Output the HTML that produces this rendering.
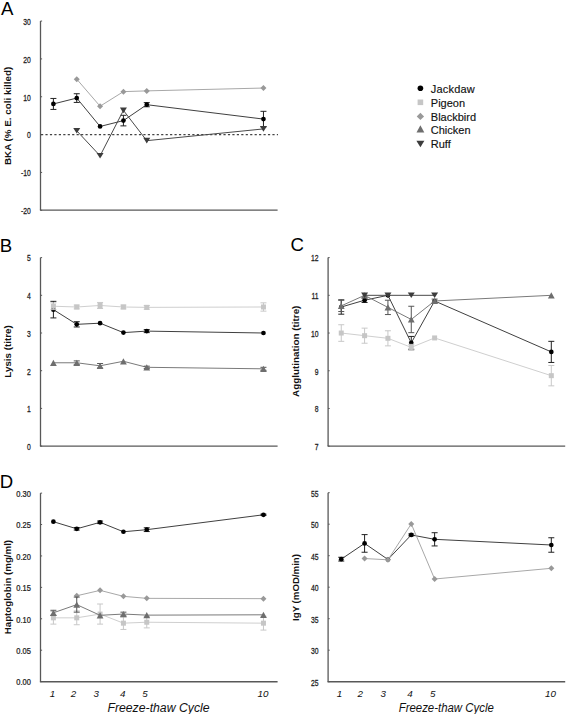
<!DOCTYPE html>
<html><head><meta charset="utf-8"><style>
html,body{margin:0;padding:0;background:#fff;width:567px;height:714px;overflow:hidden}
svg{display:block}
</style></head><body>
<svg width="567" height="714" viewBox="0 0 567 714" font-family='"Liberation Sans", sans-serif'>
<rect width="567" height="714" fill="#fff"/>
<text x="0.9" y="15.2" font-size="18.6" fill="#000">A</text>
<text x="-0.3" y="251.6" font-size="18.6" fill="#000">B</text>
<text x="290.4" y="251.4" font-size="18.6" fill="#000">C</text>
<text x="-0.2" y="488.3" font-size="18.6" fill="#000">D</text>
<path d="M40.50 21.05V210.10" stroke="#585858" stroke-width="1.3"/>
<path d="M39.90 210.10H277.60" stroke="#585858" stroke-width="1.4"/>
<path d="M40.50 21.05H42.10" stroke="#585858" stroke-width="1"/>
<path d="M40.50 58.90H42.10" stroke="#585858" stroke-width="1"/>
<path d="M40.50 96.75H42.10" stroke="#585858" stroke-width="1"/>
<path d="M40.50 134.60H42.10" stroke="#585858" stroke-width="1"/>
<path d="M40.50 172.45H42.10" stroke="#585858" stroke-width="1"/>
<path d="M40.50 210.30H42.10" stroke="#585858" stroke-width="1"/>
<text transform="translate(30.90 24.85) scale(0.8 1)" text-anchor="end" font-size="8.5" fill="#222" stroke="#222" stroke-width="0.25">30</text>
<text transform="translate(30.90 62.70) scale(0.8 1)" text-anchor="end" font-size="8.5" fill="#222" stroke="#222" stroke-width="0.25">20</text>
<text transform="translate(30.90 100.55) scale(0.8 1)" text-anchor="end" font-size="8.5" fill="#222" stroke="#222" stroke-width="0.25">10</text>
<text transform="translate(30.90 138.40) scale(0.8 1)" text-anchor="end" font-size="8.5" fill="#222" stroke="#222" stroke-width="0.25">0</text>
<text transform="translate(30.90 176.25) scale(0.8 1)" text-anchor="end" font-size="8.5" fill="#222" stroke="#222" stroke-width="0.25">-10</text>
<text transform="translate(30.90 214.10) scale(0.8 1)" text-anchor="end" font-size="8.5" fill="#222" stroke="#222" stroke-width="0.25">-20</text>
<path d="M41 134.60H278" stroke="#444" stroke-width="1.15" stroke-dasharray="2.2 2.25"/>
<text transform="translate(10.90 115.90) rotate(-90)" text-anchor="middle" font-size="9.7" font-weight="bold" fill="#111" textLength="98.2" lengthAdjust="spacingAndGlyphs">BKA (% E. coli killed)</text>
<path d="M53.40 103.94L76.74 98.07L100.08 126.46L123.42 120.60L146.76 104.70L263.46 119.08" fill="none" stroke="#404040" stroke-width="1.0"/>
<path d="M53.40 98.45V109.43M50.40 98.45H56.40M50.40 109.43H56.40" stroke="#222" stroke-width="1" fill="none"/>
<path d="M76.74 93.72V102.43M73.74 93.72H79.74M73.74 102.43H79.74" stroke="#222" stroke-width="1" fill="none"/>
<path d="M123.42 115.30V125.89M120.42 115.30H126.42M120.42 125.89H126.42" stroke="#222" stroke-width="1" fill="none"/>
<path d="M146.76 102.62V106.78M143.76 102.62H149.76M143.76 106.78H149.76" stroke="#222" stroke-width="1" fill="none"/>
<path d="M263.46 111.32V126.84M260.46 111.32H266.46M260.46 126.84H266.46" stroke="#222" stroke-width="1" fill="none"/>
<circle cx="53.40" cy="103.94" r="2.35" fill="#000"/>
<circle cx="76.74" cy="98.07" r="2.35" fill="#000"/>
<circle cx="100.08" cy="126.46" r="2.35" fill="#000"/>
<circle cx="123.42" cy="120.60" r="2.35" fill="#000"/>
<circle cx="146.76" cy="104.70" r="2.35" fill="#000"/>
<circle cx="263.46" cy="119.08" r="2.35" fill="#000"/>
<path d="M76.74 79.15L100.08 106.21L123.42 91.64L146.76 90.88L263.46 88.04" fill="none" stroke="#a8a8a8" stroke-width="1.0"/>
<path d="M76.74 76.15L79.74 79.15L76.74 82.15L73.74 79.15Z" fill="#999"/>
<path d="M100.08 103.21L103.08 106.21L100.08 109.21L97.08 106.21Z" fill="#999"/>
<path d="M123.42 88.64L126.42 91.64L123.42 94.64L120.42 91.64Z" fill="#999"/>
<path d="M146.76 87.88L149.76 90.88L146.76 93.88L143.76 90.88Z" fill="#999"/>
<path d="M263.46 85.04L266.46 88.04L263.46 91.04L260.46 88.04Z" fill="#999"/>
<path d="M76.74 130.81L100.08 155.80L123.42 110.38L146.76 140.66L263.46 128.92" fill="none" stroke="#4a4a4a" stroke-width="1.0"/>
<path d="M73.24 128.01L80.24 128.01L76.74 133.62Z" fill="#3c3c3c"/>
<path d="M96.58 153.00L103.58 153.00L100.08 158.60Z" fill="#3c3c3c"/>
<path d="M119.92 107.58L126.92 107.58L123.42 113.18Z" fill="#3c3c3c"/>
<path d="M143.26 137.86L150.26 137.86L146.76 143.46Z" fill="#3c3c3c"/>
<path d="M259.96 126.12L266.96 126.12L263.46 131.72Z" fill="#3c3c3c"/>
<circle cx="420.40" cy="88.20" r="2.82" fill="#000"/>
<text x="430.8" y="93.3" font-size="11" fill="#111" stroke="#111" stroke-width="0.15" letter-spacing="0.2">Jackdaw</text>
<rect x="417.60" y="99.50" width="5.60" height="5.60" fill="#c6c6c6"/>
<text x="430.8" y="106.95" font-size="11" fill="#111" stroke="#111" stroke-width="0.15">Pigeon</text>
<path d="M420.40 112.74L424.06 116.40L420.40 120.06L416.74 116.40Z" fill="#999"/>
<text x="430.8" y="120.6" font-size="11" fill="#111" stroke="#111" stroke-width="0.15">Blackbird</text>
<path d="M420.40 125.34L424.31 132.47L416.49 132.47Z" fill="#6e6e6e"/>
<text x="430.8" y="134.3" font-size="11" fill="#111" stroke="#111" stroke-width="0.15">Chicken</text>
<path d="M416.38 140.78L424.42 140.78L420.40 147.22Z" fill="#3c3c3c"/>
<text x="430.8" y="147.95" font-size="11" fill="#111" stroke="#111" stroke-width="0.15">Ruff</text>
<path d="M40.50 257.60V446.10" stroke="#585858" stroke-width="1.3"/>
<path d="M39.90 446.10H277.60" stroke="#585858" stroke-width="1.4"/>
<path d="M40.50 257.60H42.10" stroke="#585858" stroke-width="1"/>
<path d="M40.50 295.30H42.10" stroke="#585858" stroke-width="1"/>
<path d="M40.50 333.00H42.10" stroke="#585858" stroke-width="1"/>
<path d="M40.50 370.70H42.10" stroke="#585858" stroke-width="1"/>
<path d="M40.50 408.40H42.10" stroke="#585858" stroke-width="1"/>
<path d="M40.50 446.10H42.10" stroke="#585858" stroke-width="1"/>
<text transform="translate(30.90 261.40) scale(0.8 1)" text-anchor="end" font-size="8.5" fill="#222" stroke="#222" stroke-width="0.25">5</text>
<text transform="translate(30.90 299.10) scale(0.8 1)" text-anchor="end" font-size="8.5" fill="#222" stroke="#222" stroke-width="0.25">4</text>
<text transform="translate(30.90 336.80) scale(0.8 1)" text-anchor="end" font-size="8.5" fill="#222" stroke="#222" stroke-width="0.25">3</text>
<text transform="translate(30.90 374.50) scale(0.8 1)" text-anchor="end" font-size="8.5" fill="#222" stroke="#222" stroke-width="0.25">2</text>
<text transform="translate(30.90 412.20) scale(0.8 1)" text-anchor="end" font-size="8.5" fill="#222" stroke="#222" stroke-width="0.25">1</text>
<text transform="translate(30.90 449.90) scale(0.8 1)" text-anchor="end" font-size="8.5" fill="#222" stroke="#222" stroke-width="0.25">0</text>
<text transform="translate(11.20 351.45) rotate(-90)" text-anchor="middle" font-size="9.7" font-weight="bold" fill="#111" textLength="52.5" lengthAdjust="spacingAndGlyphs">Lysis (titre)</text>
<path d="M53.40 309.63L76.74 324.33L100.08 323.20L123.42 332.62L146.76 331.12L263.46 333.00" fill="none" stroke="#404040" stroke-width="1.0"/>
<path d="M53.40 301.33V317.92M50.40 301.33H56.40M50.40 317.92H56.40" stroke="#222" stroke-width="1" fill="none"/>
<path d="M76.74 321.69V326.97M73.74 321.69H79.74M73.74 326.97H79.74" stroke="#222" stroke-width="1" fill="none"/>
<path d="M146.76 329.61V332.62M143.76 329.61H149.76M143.76 332.62H149.76" stroke="#222" stroke-width="1" fill="none"/>
<circle cx="53.40" cy="309.63" r="2.35" fill="#000"/>
<circle cx="76.74" cy="324.33" r="2.35" fill="#000"/>
<circle cx="100.08" cy="323.20" r="2.35" fill="#000"/>
<circle cx="123.42" cy="332.62" r="2.35" fill="#000"/>
<circle cx="146.76" cy="331.12" r="2.35" fill="#000"/>
<circle cx="263.46" cy="333.00" r="2.35" fill="#000"/>
<path d="M53.40 306.23L76.74 306.99L100.08 305.48L123.42 306.99L146.76 307.36L263.46 306.99" fill="none" stroke="#cfcfcf" stroke-width="1.0"/>
<path d="M53.40 302.84V309.63M50.40 302.84H56.40M50.40 309.63H56.40" stroke="#c8c8c8" stroke-width="1" fill="none"/>
<path d="M76.74 305.10V308.87M73.74 305.10H79.74M73.74 308.87H79.74" stroke="#c8c8c8" stroke-width="1" fill="none"/>
<path d="M100.08 302.46V308.50M97.08 302.46H103.08M97.08 308.50H103.08" stroke="#c8c8c8" stroke-width="1" fill="none"/>
<path d="M123.42 305.10V308.87M120.42 305.10H126.42M120.42 308.87H126.42" stroke="#c8c8c8" stroke-width="1" fill="none"/>
<path d="M146.76 305.48V309.25M143.76 305.48H149.76M143.76 309.25H149.76" stroke="#c8c8c8" stroke-width="1" fill="none"/>
<path d="M263.46 302.84V311.13M260.46 302.84H266.46M260.46 311.13H266.46" stroke="#c8c8c8" stroke-width="1" fill="none"/>
<rect x="50.90" y="303.73" width="5.00" height="5.00" fill="#c6c6c6"/>
<rect x="74.24" y="304.49" width="5.00" height="5.00" fill="#c6c6c6"/>
<rect x="97.58" y="302.98" width="5.00" height="5.00" fill="#c6c6c6"/>
<rect x="120.92" y="304.49" width="5.00" height="5.00" fill="#c6c6c6"/>
<rect x="144.26" y="304.86" width="5.00" height="5.00" fill="#c6c6c6"/>
<rect x="260.96" y="304.49" width="5.00" height="5.00" fill="#c6c6c6"/>
<path d="M53.40 362.78L76.74 362.78L100.08 365.80L123.42 361.28L146.76 367.31L263.46 368.82" fill="none" stroke="#7a7a7a" stroke-width="1.0"/>
<path d="M76.74 360.90V364.67M73.74 360.90H79.74M73.74 364.67H79.74" stroke="#555" stroke-width="1" fill="none"/>
<path d="M100.08 363.54V368.06M97.08 363.54H103.08M97.08 368.06H103.08" stroke="#555" stroke-width="1" fill="none"/>
<path d="M146.76 366.18V368.44M143.76 366.18H149.76M143.76 368.44H149.76" stroke="#555" stroke-width="1" fill="none"/>
<path d="M263.46 367.31V370.32M260.46 367.31H266.46M260.46 370.32H266.46" stroke="#555" stroke-width="1" fill="none"/>
<path d="M53.40 359.68L56.80 365.88L50.00 365.88Z" fill="#6e6e6e"/>
<path d="M76.74 359.68L80.14 365.88L73.34 365.88Z" fill="#6e6e6e"/>
<path d="M100.08 362.70L103.48 368.90L96.68 368.90Z" fill="#6e6e6e"/>
<path d="M123.42 358.18L126.82 364.38L120.02 364.38Z" fill="#6e6e6e"/>
<path d="M146.76 364.21L150.16 370.41L143.36 370.41Z" fill="#6e6e6e"/>
<path d="M263.46 365.72L266.86 371.92L260.06 371.92Z" fill="#6e6e6e"/>
<path d="M328.10 257.60V446.10" stroke="#585858" stroke-width="1.3"/>
<path d="M327.50 446.10H565.20" stroke="#585858" stroke-width="1.4"/>
<path d="M328.10 257.60H329.70" stroke="#585858" stroke-width="1"/>
<path d="M328.10 295.32H329.70" stroke="#585858" stroke-width="1"/>
<path d="M328.10 333.04H329.70" stroke="#585858" stroke-width="1"/>
<path d="M328.10 370.76H329.70" stroke="#585858" stroke-width="1"/>
<path d="M328.10 408.48H329.70" stroke="#585858" stroke-width="1"/>
<path d="M328.10 446.20H329.70" stroke="#585858" stroke-width="1"/>
<text transform="translate(318.50 261.40) scale(0.8 1)" text-anchor="end" font-size="8.5" fill="#222" stroke="#222" stroke-width="0.25">12</text>
<text transform="translate(318.50 299.12) scale(0.8 1)" text-anchor="end" font-size="8.5" fill="#222" stroke="#222" stroke-width="0.25">11</text>
<text transform="translate(318.50 336.84) scale(0.8 1)" text-anchor="end" font-size="8.5" fill="#222" stroke="#222" stroke-width="0.25">10</text>
<text transform="translate(318.50 374.56) scale(0.8 1)" text-anchor="end" font-size="8.5" fill="#222" stroke="#222" stroke-width="0.25">9</text>
<text transform="translate(318.50 412.28) scale(0.8 1)" text-anchor="end" font-size="8.5" fill="#222" stroke="#222" stroke-width="0.25">8</text>
<text transform="translate(318.50 450.00) scale(0.8 1)" text-anchor="end" font-size="8.5" fill="#222" stroke="#222" stroke-width="0.25">7</text>
<text transform="translate(298.90 351.25) rotate(-90)" text-anchor="middle" font-size="9.7" font-weight="bold" fill="#111" textLength="91.3" lengthAdjust="spacingAndGlyphs">Agglutination (titre)</text>
<path d="M341.25 307.01L364.59 300.22L387.93 295.32L411.27 342.85L434.61 300.98L551.31 351.90" fill="none" stroke="#404040" stroke-width="1.0"/>
<path d="M341.25 299.85V314.18M338.25 299.85H344.25M338.25 314.18H344.25" stroke="#222" stroke-width="1" fill="none"/>
<path d="M364.59 297.96V302.49M361.59 297.96H367.59M361.59 302.49H367.59" stroke="#222" stroke-width="1" fill="none"/>
<path d="M411.27 336.43V349.26M408.27 336.43H414.27M408.27 349.26H414.27" stroke="#222" stroke-width="1" fill="none"/>
<path d="M551.31 341.34V362.46M548.31 341.34H554.31M548.31 362.46H554.31" stroke="#222" stroke-width="1" fill="none"/>
<circle cx="341.25" cy="307.01" r="2.35" fill="#000"/>
<circle cx="364.59" cy="300.22" r="2.35" fill="#000"/>
<circle cx="387.93" cy="295.32" r="2.35" fill="#000"/>
<circle cx="411.27" cy="342.85" r="2.35" fill="#000"/>
<circle cx="434.61" cy="300.98" r="2.35" fill="#000"/>
<circle cx="551.31" cy="351.90" r="2.35" fill="#000"/>
<path d="M341.25 333.04L364.59 335.68L387.93 338.32L411.27 347.37L434.61 337.94L551.31 375.66" fill="none" stroke="#cfcfcf" stroke-width="1.0"/>
<path d="M341.25 324.74V341.34M338.25 324.74H344.25M338.25 341.34H344.25" stroke="#c8c8c8" stroke-width="1" fill="none"/>
<path d="M364.59 328.14V343.22M361.59 328.14H367.59M361.59 343.22H367.59" stroke="#c8c8c8" stroke-width="1" fill="none"/>
<path d="M387.93 330.78V345.86M384.93 330.78H390.93M384.93 345.86H390.93" stroke="#c8c8c8" stroke-width="1" fill="none"/>
<path d="M411.27 344.36V350.39M408.27 344.36H414.27M408.27 350.39H414.27" stroke="#c8c8c8" stroke-width="1" fill="none"/>
<path d="M551.31 365.48V385.85M548.31 365.48H554.31M548.31 385.85H554.31" stroke="#c8c8c8" stroke-width="1" fill="none"/>
<rect x="338.75" y="330.54" width="5.00" height="5.00" fill="#c6c6c6"/>
<rect x="362.09" y="333.18" width="5.00" height="5.00" fill="#c6c6c6"/>
<rect x="385.43" y="335.82" width="5.00" height="5.00" fill="#c6c6c6"/>
<rect x="408.77" y="344.87" width="5.00" height="5.00" fill="#c6c6c6"/>
<rect x="432.11" y="335.44" width="5.00" height="5.00" fill="#c6c6c6"/>
<rect x="548.81" y="373.16" width="5.00" height="5.00" fill="#c6c6c6"/>
<path d="M341.25 305.88L364.59 295.32L387.93 307.39L411.27 319.46L434.61 300.98L551.31 295.32" fill="none" stroke="#7a7a7a" stroke-width="1.0"/>
<path d="M341.25 300.22V311.54M338.25 300.22H344.25M338.25 311.54H344.25" stroke="#555" stroke-width="1" fill="none"/>
<path d="M387.93 300.22V314.56M384.93 300.22H390.93M384.93 314.56H390.93" stroke="#555" stroke-width="1" fill="none"/>
<path d="M411.27 306.26V332.66M408.27 306.26H414.27M408.27 332.66H414.27" stroke="#555" stroke-width="1" fill="none"/>
<path d="M434.61 299.09V302.86M431.61 299.09H437.61M431.61 302.86H437.61" stroke="#555" stroke-width="1" fill="none"/>
<path d="M341.25 302.78L344.65 308.98L337.85 308.98Z" fill="#6e6e6e"/>
<path d="M364.59 292.22L367.99 298.42L361.19 298.42Z" fill="#6e6e6e"/>
<path d="M387.93 304.29L391.33 310.49L384.53 310.49Z" fill="#6e6e6e"/>
<path d="M411.27 316.36L414.67 322.56L407.87 322.56Z" fill="#6e6e6e"/>
<path d="M434.61 297.88L438.01 304.08L431.21 304.08Z" fill="#6e6e6e"/>
<path d="M551.31 292.22L554.71 298.42L547.91 298.42Z" fill="#6e6e6e"/>
<path d="M364.59 295.32L387.93 295.32L411.27 295.32L434.61 295.32" fill="none" stroke="#4a4a4a" stroke-width="1.0"/>
<path d="M361.09 292.52L368.09 292.52L364.59 298.12Z" fill="#3c3c3c"/>
<path d="M384.43 292.52L391.43 292.52L387.93 298.12Z" fill="#3c3c3c"/>
<path d="M407.77 292.52L414.77 292.52L411.27 298.12Z" fill="#3c3c3c"/>
<path d="M431.11 292.52L438.11 292.52L434.61 298.12Z" fill="#3c3c3c"/>
<path d="M40.50 493.11V681.70" stroke="#585858" stroke-width="1.3"/>
<path d="M39.90 681.70H277.60" stroke="#585858" stroke-width="1.4"/>
<path d="M40.50 493.11H42.10" stroke="#585858" stroke-width="1"/>
<path d="M40.50 524.53H42.10" stroke="#585858" stroke-width="1"/>
<path d="M40.50 555.94H42.10" stroke="#585858" stroke-width="1"/>
<path d="M40.50 587.36H42.10" stroke="#585858" stroke-width="1"/>
<path d="M40.50 618.77H42.10" stroke="#585858" stroke-width="1"/>
<path d="M40.50 650.19H42.10" stroke="#585858" stroke-width="1"/>
<path d="M40.50 681.60H42.10" stroke="#585858" stroke-width="1"/>
<text transform="translate(30.90 496.91) scale(0.88 1)" text-anchor="end" font-size="8.5" fill="#222" stroke="#222" stroke-width="0.25">0.30</text>
<text transform="translate(30.90 528.33) scale(0.88 1)" text-anchor="end" font-size="8.5" fill="#222" stroke="#222" stroke-width="0.25">0.25</text>
<text transform="translate(30.90 559.74) scale(0.88 1)" text-anchor="end" font-size="8.5" fill="#222" stroke="#222" stroke-width="0.25">0.20</text>
<text transform="translate(30.90 591.15) scale(0.88 1)" text-anchor="end" font-size="8.5" fill="#222" stroke="#222" stroke-width="0.25">0.15</text>
<text transform="translate(30.90 622.57) scale(0.88 1)" text-anchor="end" font-size="8.5" fill="#222" stroke="#222" stroke-width="0.25">0.10</text>
<text transform="translate(30.90 653.99) scale(0.88 1)" text-anchor="end" font-size="8.5" fill="#222" stroke="#222" stroke-width="0.25">0.05</text>
<text transform="translate(30.90 685.40) scale(0.88 1)" text-anchor="end" font-size="8.5" fill="#222" stroke="#222" stroke-width="0.25">0.00</text>
<text transform="translate(10.90 587.10) rotate(-90)" text-anchor="middle" font-size="9.7" font-weight="bold" fill="#111" textLength="94.3" lengthAdjust="spacingAndGlyphs">Haptoglobin (mg/ml)</text>
<path d="M53.40 521.70L76.74 528.80L100.08 522.33L123.42 531.75L146.76 529.68L263.46 514.79" fill="none" stroke="#404040" stroke-width="1.0"/>
<path d="M76.74 527.54V530.05M73.74 527.54H79.74M73.74 530.05H79.74" stroke="#222" stroke-width="1" fill="none"/>
<path d="M100.08 521.07V523.58M97.08 521.07H103.08M97.08 523.58H103.08" stroke="#222" stroke-width="1" fill="none"/>
<path d="M146.76 527.79V531.56M143.76 527.79H149.76M143.76 531.56H149.76" stroke="#222" stroke-width="1" fill="none"/>
<path d="M263.46 514.16V515.41M260.46 514.16H266.46M260.46 515.41H266.46" stroke="#222" stroke-width="1" fill="none"/>
<circle cx="53.40" cy="521.70" r="2.35" fill="#000"/>
<circle cx="76.74" cy="528.80" r="2.35" fill="#000"/>
<circle cx="100.08" cy="522.33" r="2.35" fill="#000"/>
<circle cx="123.42" cy="531.75" r="2.35" fill="#000"/>
<circle cx="146.76" cy="529.68" r="2.35" fill="#000"/>
<circle cx="263.46" cy="514.79" r="2.35" fill="#000"/>
<path d="M53.40 617.83L76.74 617.83L100.08 614.06L123.42 623.17L146.76 622.23L263.46 623.17" fill="none" stroke="#cfcfcf" stroke-width="1.0"/>
<path d="M53.40 611.54V624.11M50.40 611.54H56.40M50.40 624.11H56.40" stroke="#c8c8c8" stroke-width="1" fill="none"/>
<path d="M76.74 610.92V624.74M73.74 610.92H79.74M73.74 624.74H79.74" stroke="#c8c8c8" stroke-width="1" fill="none"/>
<path d="M100.08 604.00V624.11M97.08 604.00H103.08M97.08 624.11H103.08" stroke="#c8c8c8" stroke-width="1" fill="none"/>
<path d="M123.42 616.89V629.45M120.42 616.89H126.42M120.42 629.45H126.42" stroke="#c8c8c8" stroke-width="1" fill="none"/>
<path d="M146.76 616.57V627.88M143.76 616.57H149.76M143.76 627.88H149.76" stroke="#c8c8c8" stroke-width="1" fill="none"/>
<path d="M263.46 616.26V630.08M260.46 616.26H266.46M260.46 630.08H266.46" stroke="#c8c8c8" stroke-width="1" fill="none"/>
<rect x="50.90" y="615.33" width="5.00" height="5.00" fill="#c6c6c6"/>
<rect x="74.24" y="615.33" width="5.00" height="5.00" fill="#c6c6c6"/>
<rect x="97.58" y="611.56" width="5.00" height="5.00" fill="#c6c6c6"/>
<rect x="120.92" y="620.67" width="5.00" height="5.00" fill="#c6c6c6"/>
<rect x="144.26" y="619.73" width="5.00" height="5.00" fill="#c6c6c6"/>
<rect x="260.96" y="620.67" width="5.00" height="5.00" fill="#c6c6c6"/>
<path d="M76.74 595.77L100.08 590.37L123.42 596.34L146.76 598.35L263.46 598.66" fill="none" stroke="#a8a8a8" stroke-width="1.0"/>
<path d="M76.74 592.77L79.74 595.77L76.74 598.77L73.74 595.77Z" fill="#999"/>
<path d="M100.08 587.37L103.08 590.37L100.08 593.37L97.08 590.37Z" fill="#999"/>
<path d="M123.42 593.34L126.42 596.34L123.42 599.34L120.42 596.34Z" fill="#999"/>
<path d="M146.76 595.35L149.76 598.35L146.76 601.35L143.76 598.35Z" fill="#999"/>
<path d="M263.46 595.66L266.46 598.66L263.46 601.66L260.46 598.66Z" fill="#999"/>
<path d="M53.40 612.80L76.74 604.63L100.08 615.31L123.42 614.06L146.76 615.13L263.46 614.81" fill="none" stroke="#7a7a7a" stroke-width="1.0"/>
<path d="M53.40 610.29V615.31M50.40 610.29H56.40M50.40 615.31H56.40" stroke="#555" stroke-width="1" fill="none"/>
<path d="M76.74 597.09V612.17M73.74 597.09H79.74M73.74 612.17H79.74" stroke="#555" stroke-width="1" fill="none"/>
<path d="M123.42 612.17V615.94M120.42 612.17H126.42M120.42 615.94H126.42" stroke="#555" stroke-width="1" fill="none"/>
<path d="M53.40 609.70L56.80 615.90L50.00 615.90Z" fill="#6e6e6e"/>
<path d="M76.74 601.53L80.14 607.73L73.34 607.73Z" fill="#6e6e6e"/>
<path d="M100.08 612.21L103.48 618.41L96.68 618.41Z" fill="#6e6e6e"/>
<path d="M123.42 610.96L126.82 617.16L120.02 617.16Z" fill="#6e6e6e"/>
<path d="M146.76 612.03L150.16 618.23L143.36 618.23Z" fill="#6e6e6e"/>
<path d="M263.46 611.71L266.86 617.91L260.06 617.91Z" fill="#6e6e6e"/>
<path d="M328.10 492.70V681.70" stroke="#585858" stroke-width="1.3"/>
<path d="M327.50 681.70H565.20" stroke="#585858" stroke-width="1.4"/>
<path d="M328.10 492.70H329.70" stroke="#585858" stroke-width="1"/>
<path d="M328.10 524.20H329.70" stroke="#585858" stroke-width="1"/>
<path d="M328.10 555.70H329.70" stroke="#585858" stroke-width="1"/>
<path d="M328.10 587.20H329.70" stroke="#585858" stroke-width="1"/>
<path d="M328.10 618.70H329.70" stroke="#585858" stroke-width="1"/>
<path d="M328.10 650.20H329.70" stroke="#585858" stroke-width="1"/>
<path d="M328.10 681.70H329.70" stroke="#585858" stroke-width="1"/>
<text transform="translate(318.50 496.50) scale(0.8 1)" text-anchor="end" font-size="8.5" fill="#222" stroke="#222" stroke-width="0.25">55</text>
<text transform="translate(318.50 528.00) scale(0.8 1)" text-anchor="end" font-size="8.5" fill="#222" stroke="#222" stroke-width="0.25">50</text>
<text transform="translate(318.50 559.50) scale(0.8 1)" text-anchor="end" font-size="8.5" fill="#222" stroke="#222" stroke-width="0.25">45</text>
<text transform="translate(318.50 591.00) scale(0.8 1)" text-anchor="end" font-size="8.5" fill="#222" stroke="#222" stroke-width="0.25">40</text>
<text transform="translate(318.50 622.50) scale(0.8 1)" text-anchor="end" font-size="8.5" fill="#222" stroke="#222" stroke-width="0.25">35</text>
<text transform="translate(318.50 654.00) scale(0.8 1)" text-anchor="end" font-size="8.5" fill="#222" stroke="#222" stroke-width="0.25">30</text>
<text transform="translate(318.50 685.50) scale(0.8 1)" text-anchor="end" font-size="8.5" fill="#222" stroke="#222" stroke-width="0.25">25</text>
<text transform="translate(298.70 587.50) rotate(-90)" text-anchor="middle" font-size="9.7" font-weight="bold" fill="#111" textLength="66.9" lengthAdjust="spacingAndGlyphs">IgY (mOD/min)</text>
<path d="M341.25 559.17L364.59 543.41L387.93 559.48L411.27 534.91L434.61 539.32L551.31 544.99" fill="none" stroke="#404040" stroke-width="1.0"/>
<path d="M341.25 557.28V561.06M338.25 557.28H344.25M338.25 561.06H344.25" stroke="#222" stroke-width="1" fill="none"/>
<path d="M364.59 534.60V552.24M361.59 534.60H367.59M361.59 552.24H367.59" stroke="#222" stroke-width="1" fill="none"/>
<path d="M411.27 533.97V535.86M408.27 533.97H414.27M408.27 535.86H414.27" stroke="#222" stroke-width="1" fill="none"/>
<path d="M434.61 532.71V545.94M431.61 532.71H437.61M431.61 545.94H437.61" stroke="#222" stroke-width="1" fill="none"/>
<path d="M551.31 537.75V552.24M548.31 537.75H554.31M548.31 552.24H554.31" stroke="#222" stroke-width="1" fill="none"/>
<circle cx="341.25" cy="559.17" r="2.35" fill="#000"/>
<circle cx="364.59" cy="543.41" r="2.35" fill="#000"/>
<circle cx="387.93" cy="559.48" r="2.35" fill="#000"/>
<circle cx="411.27" cy="534.91" r="2.35" fill="#000"/>
<circle cx="434.61" cy="539.32" r="2.35" fill="#000"/>
<circle cx="551.31" cy="544.99" r="2.35" fill="#000"/>
<path d="M364.59 558.54L387.93 559.80L411.27 523.89L434.61 579.01L551.31 568.30" fill="none" stroke="#a8a8a8" stroke-width="1.0"/>
<path d="M364.59 555.54L367.59 558.54L364.59 561.54L361.59 558.54Z" fill="#999"/>
<path d="M387.93 556.80L390.93 559.80L387.93 562.80L384.93 559.80Z" fill="#999"/>
<path d="M411.27 520.89L414.27 523.89L411.27 526.89L408.27 523.89Z" fill="#999"/>
<path d="M434.61 576.01L437.61 579.01L434.61 582.01L431.61 579.01Z" fill="#999"/>
<path d="M551.31 565.30L554.31 568.30L551.31 571.30L548.31 568.30Z" fill="#999"/>
<text x="52.5" y="697.3" text-anchor="middle" font-size="9.8" font-style="italic" fill="#111">1</text>
<text x="73.4" y="697.3" text-anchor="middle" font-size="9.8" font-style="italic" fill="#111">2</text>
<text x="96.2" y="697.3" text-anchor="middle" font-size="9.8" font-style="italic" fill="#111">3</text>
<text x="122.7" y="697.3" text-anchor="middle" font-size="9.8" font-style="italic" fill="#111">4</text>
<text x="145.0" y="697.3" text-anchor="middle" font-size="9.8" font-style="italic" fill="#111">5</text>
<text x="262.9" y="697.3" text-anchor="middle" font-size="9.8" font-style="italic" fill="#111">10</text>
<text x="339.5" y="697.3" text-anchor="middle" font-size="9.8" font-style="italic" fill="#111">1</text>
<text x="360.2" y="697.3" text-anchor="middle" font-size="9.8" font-style="italic" fill="#111">2</text>
<text x="383.3" y="697.3" text-anchor="middle" font-size="9.8" font-style="italic" fill="#111">3</text>
<text x="409.9" y="697.3" text-anchor="middle" font-size="9.8" font-style="italic" fill="#111">4</text>
<text x="432.8" y="697.3" text-anchor="middle" font-size="9.8" font-style="italic" fill="#111">5</text>
<text x="550.5" y="697.3" text-anchor="middle" font-size="9.8" font-style="italic" fill="#111">10</text>
<text x="107.4" y="712.3" font-size="12" font-style="italic" fill="#111" textLength="102.2" lengthAdjust="spacingAndGlyphs">Freeze-thaw Cycle</text>
<text x="398.7" y="712.3" font-size="12" font-style="italic" fill="#111" textLength="95.1" lengthAdjust="spacingAndGlyphs">Freeze-thaw Cycle</text>
</svg>
</body></html>
